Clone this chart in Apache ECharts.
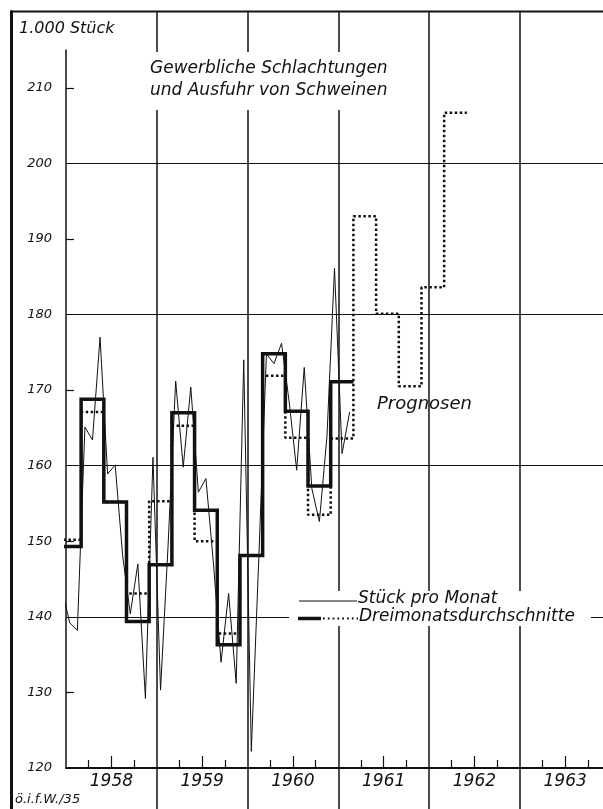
<!DOCTYPE html>
<html><head><meta charset="utf-8">
<script src="https://cdn.jsdelivr.net/npm/echarts@6/dist/echarts.min.js"></script>
<style>html,body{margin:0;padding:0;background:#fff}#c{width:603px;height:809px}</style>
</head><body><div id="c"></div>
<script>
// ---- data (1.000 Stück) ----
const yearLabels = ['1958', '1959', '1960', '1961', '1962', '1963'];
// monthly values Dec 1957 .. Feb 1961 ; x = months after 1 Jan 1958
const monthlyFirstMonth = -1;
const monthlyValues = [
  143.4,                                                            // Dec 57
  139.2, 138.2, 165.1, 163.4, 177.0, 158.9, 160.1, 148.0, 140.4, 147.0, 129.2, 161.1, // 1958
  130.3, 149.5, 171.2, 159.8, 170.4, 156.5, 158.3, 147.0, 134.0, 143.1, 131.2, 174.0, // 1959
  122.2, 148.0, 174.8, 173.5, 176.2, 168.5, 159.4, 173.0, 157.0, 152.6, 163.8, 186.1, // 1960
  161.6, 167.1                                                      // 1961
];
// three-month averages (Dec-Feb, Mar-May, Jun-Aug, Sep-Nov), first period begins Dec 1957
const periodFirstMonth = -1;
const actualAverages = [149.3, 168.8, 155.2, 139.4, 146.9, 167.0, 154.1, 136.3, 148.1, 174.8, 167.2, 157.3, 171.1];
const forecastAverages = [150.2, 167.1, 155.2, 143.1, 155.3, 165.3, 150.0, 137.8, 148.1, 171.9, 163.7, 153.5, 163.6,
  193.0, 180.1, 170.5, 183.6, 206.7];
const yTickLabels = [120, 130, 140, 150, 160, 170, 180, 190, 200, 210];
const yMinorTicks = [130, 150, 170, 190, 210];

// ---- helpers ----
const INK = '#111';
const FONT = 'DejaVu Sans';
function stepPoints(values, first) {
  const pts = [];
  values.forEach((v, i) => { const s = first + 3 * i; pts.push([s, v], [s + 3, v]); });
  return pts;
}
const monthlyData = monthlyValues.map((v, i) => [monthlyFirstMonth + i + 0.5, v]);
const yearMid = yearLabels.map((_, i) => 12 * i + 6);
const quarterTicks = [];
for (let m = 3; m < 71; m += 3) if (m % 6 !== 0) quarterTicks.push(m);
const X_MAX = 71, LEFT = 66, W = 603 - LEFT;
const yearGridLeft = LEFT + 12 * W / X_MAX;
const txt = (size) => ({ fontSize: size, fontStyle: 'italic', fontWeight: 'normal', fontFamily: FONT, color: INK });

const chart = echarts.init(document.getElementById('c'), null, { renderer: 'canvas' });
chart.setOption({
  animation: false,
  backgroundColor: '#fff',
  title: [
    { text: 'Gewerbliche Schlachtungen\nund Ausfuhr von Schweinen', left: 146, top: 52,
      padding: [6, 8, 8, 4], backgroundColor: '#fff',
      textStyle: Object.assign(txt(17), { lineHeight: 22 }) },
    { text: '1.000 Stück', left: 19, top: 21, padding: 0, textStyle: txt(16) }
  ],
  grid: [
    { left: LEFT, right: 0, top: 50, bottom: 41 },
    { left: yearGridLeft, right: 0, top: 12, bottom: 0 }
  ],
  xAxis: [
    { gridIndex: 0, type: 'value', min: 0, max: X_MAX, position: 'bottom',
      axisLine: { show: true, onZero: false, lineStyle: { color: INK, width: 2 } },
      axisTick: { show: true, inside: true, length: 12, customValues: yearMid, lineStyle: { color: INK, width: 1.2 } },
      axisLabel: Object.assign({ show: true, customValues: yearMid, margin: 5,
        formatter: v => yearLabels[Math.round((v - 6) / 12)] || '' }, txt(17)),
      splitLine: { show: false } },
    { gridIndex: 1, type: 'value', min: 12, max: X_MAX, interval: 12, position: 'bottom',
      axisLine: { show: false }, axisTick: { show: false }, axisLabel: { show: false },
      splitLine: { show: true, showMinLine: true, showMaxLine: false, lineStyle: { color: INK, width: 1.5 } } },
    { gridIndex: 0, type: 'value', min: 0, max: X_MAX, position: 'bottom',
      axisLine: { show: false },
      axisTick: { show: true, inside: true, length: 8, customValues: quarterTicks, lineStyle: { color: INK, width: 1.2 } },
      axisLabel: { show: false }, splitLine: { show: false } }
  ],
  yAxis: [
    { gridIndex: 0, type: 'value', min: 120, max: 215, interval: 10, position: 'left',
      axisLine: { show: true, onZero: false, lineStyle: { color: INK, width: 1.5 } },
      axisTick: { show: true, inside: true, length: 8, customValues: yMinorTicks, lineStyle: { color: INK, width: 1.2 } },
      axisLabel: Object.assign({ customValues: yTickLabels, margin: 14 }, txt(13)),
      splitLine: { show: false } },
    { gridIndex: 0, type: 'value', min: 120, max: 215, interval: 20, position: 'left',
      axisLine: { show: false }, axisTick: { show: false }, axisLabel: { show: false },
      splitLine: { show: true, showMinLine: false, showMaxLine: false, lineStyle: { color: INK, width: 1.2 } } },
    { gridIndex: 1, type: 'value', min: 0, max: 1, show: false }
  ],
  series: [
    { name: 'Prognosen', type: 'line', xAxisIndex: 0, yAxisIndex: 0, z: 2,
      data: stepPoints(forecastAverages, periodFirstMonth), symbol: 'none',
      lineStyle: { color: INK, width: 2.5, type: [2.5, 2.5] } },
    { name: 'Stück pro Monat', type: 'line', xAxisIndex: 0, yAxisIndex: 0, z: 3,
      data: monthlyData, symbol: 'none', lineStyle: { color: INK, width: 1 } },
    { name: 'Dreimonatsdurchschnitte', type: 'line', xAxisIndex: 0, yAxisIndex: 0, z: 4,
      data: stepPoints(actualAverages, periodFirstMonth), symbol: 'none',
      lineStyle: { color: INK, width: 3.5, join: 'miter' } }
  ],
  graphic: [
    { type: 'line', z: 50, shape: { x1: 11.5, y1: 10.5, x2: 11.5, y2: 809 }, style: { stroke: INK, lineWidth: 3 } },
    { type: 'line', z: 50, shape: { x1: 10, y1: 11.5, x2: 603, y2: 11.5 }, style: { stroke: INK, lineWidth: 2 } },
    { type: 'rect', z: 90, shape: { x: 289, y: 591, width: 302, height: 35 }, style: { fill: '#fff' } },
    { type: 'line', z: 91, shape: { x1: 299, y1: 601, x2: 357, y2: 601 }, style: { stroke: INK, lineWidth: 1 } },
    { type: 'text', z: 91, x: 358, y: 599, style: Object.assign({ text: 'Stück pro Monat', verticalAlign: 'middle' },
      { fontSize: 17, fontStyle: 'italic', fontFamily: FONT, fill: INK }) },
    { type: 'line', z: 91, shape: { x1: 298, y1: 618.5, x2: 321, y2: 618.5 }, style: { stroke: INK, lineWidth: 3.5 } },
    { type: 'line', z: 91, shape: { x1: 323, y1: 618.5, x2: 358, y2: 618.5 }, style: { stroke: INK, lineWidth: 1.8, lineDash: [1.8, 3] } },
    { type: 'text', z: 91, x: 359, y: 617, style: { text: 'Dreimonatsdurchschnitte', verticalAlign: 'middle',
      fontSize: 17, fontStyle: 'italic', fontFamily: FONT, fill: INK } },
    { type: 'text', z: 91, x: 377, y: 404, style: { text: 'Prognosen', verticalAlign: 'middle',
      fontSize: 18, fontStyle: 'italic', fontFamily: FONT, fill: INK } },
    { type: 'text', z: 91, x: 15, y: 800, style: { text: 'ö.i.f.W./35', verticalAlign: 'middle',
      fontSize: 13, fontStyle: 'italic', fontFamily: FONT, fill: INK } }
  ]
});
</script>
</body></html>
